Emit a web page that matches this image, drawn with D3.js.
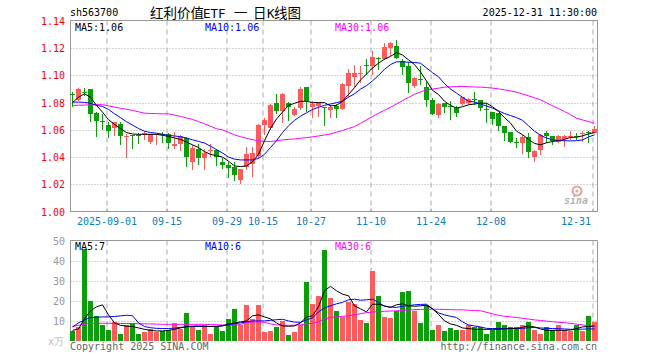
<!DOCTYPE html>
<html><head><meta charset="utf-8">
<script src="https://cdn.jsdelivr.net/npm/d3@7"></script>
<style>
html,body{margin:0;padding:0;background:#fff}
svg{display:block}
text{font-family:"DejaVu Sans Mono","Liberation Mono",monospace;font-size:10px}
</style></head><body>
<svg id="chart" width="660" height="360"></svg>
<script>
// sh563700 daily K line, 2025-08-22 .. 2025-12-31
const dates = ['08-22','08-25','08-26','08-27','08-28','08-29',
  '09-01','09-02','09-03','09-04','09-05','09-08','09-09','09-10','09-11','09-12',
  '09-15','09-16','09-17','09-18','09-19','09-22','09-23','09-24','09-25','09-26','09-29','09-30',
  '10-09','10-10','10-13','10-14','10-15','10-16','10-17','10-20','10-21','10-22','10-23','10-24',
  '10-27','10-28','10-29','10-30','10-31',
  '11-03','11-04','11-05','11-06','11-07','11-10','11-11','11-12','11-13','11-14',
  '11-17','11-18','11-19','11-20','11-21','11-24','11-25','11-26','11-27','11-28',
  '12-01','12-02','12-03','12-04','12-05','12-08','12-09','12-10','12-11','12-12',
  '12-15','12-16','12-17','12-18','12-19','12-22','12-23','12-24','12-25','12-26','12-29','12-30','12-31'];

const open  = [1.0860,1.0821,1.0880,1.0897,1.0723,1.0664,1.0633,1.0608,1.0640,1.0555,
  1.0559,1.0563,1.0557,1.0508,1.0565,1.0568,1.0567,1.0479,1.0493,1.0542,
  1.0363,1.0461,1.0395,1.0447,1.0449,1.0362,1.0342,1.0325,1.0227,1.0325,
  1.0350,1.0408,1.0636,1.0612,1.0800,1.0742,1.0796,1.0712,1.0756,1.0913,
  1.0771,1.0776,1.0766,1.0742,1.0776,1.0751,1.0918,1.0992,1.1014,1.1079,
  1.1070,1.1128,1.1119,1.1200,1.1217,1.1109,1.1070,1.0918,1.0977,1.0913,
  1.0820,1.0710,1.0801,1.0774,1.0764,1.0784,1.0796,1.0830,1.0821,1.0754,
  1.0728,1.0723,1.0632,1.0585,1.0511,1.0507,1.0546,1.0404,1.0453,1.0575,
  1.0556,1.0514,1.0531,1.0554,1.0558,1.0571,1.0581,1.0575];
const high  = [1.0880,1.0905,1.0910,1.0900,1.0730,1.0718,1.0655,1.0655,1.0655,1.0567,
  1.0560,1.0576,1.0591,1.0567,1.0570,1.0584,1.0580,1.0584,1.0559,1.0545,
  1.0486,1.0498,1.0461,1.0493,1.0461,1.0391,1.0367,1.0367,1.0315,1.0472,
  1.0472,1.0641,1.0685,1.0791,1.0864,1.0869,1.0808,1.0766,1.0913,1.0913,
  1.0813,1.0808,1.0771,1.0783,1.0791,1.0945,1.1046,1.1077,1.1070,1.1119,
  1.1176,1.1139,1.1237,1.1245,1.1261,1.1119,1.1102,1.0987,1.1070,1.0955,
  1.0832,1.0800,1.0801,1.0809,1.0772,1.0845,1.0833,1.0877,1.0821,1.0796,
  1.0728,1.0723,1.0632,1.0585,1.0539,1.0563,1.0580,1.0450,1.0571,1.0593,
  1.0556,1.0563,1.0563,1.0595,1.0575,1.0588,1.0588,1.0629];
const low   = [1.0765,1.0810,1.0846,1.0657,1.0547,1.0596,1.0542,1.0552,1.0486,1.0395,
  1.0459,1.0498,1.0523,1.0498,1.0486,1.0503,1.0461,1.0461,1.0444,1.0327,
  1.0307,1.0344,1.0302,1.0400,1.0337,1.0310,1.0244,1.0227,1.0202,1.0305,
  1.0251,1.0391,1.0563,1.0600,1.0717,1.0649,1.0668,1.0702,1.0747,1.0734,
  1.0685,1.0698,1.0631,1.0685,1.0685,1.0747,1.0845,1.0913,1.0943,1.1004,
  1.1004,1.1041,1.1114,1.1144,1.1119,1.1004,1.0874,1.0906,1.0930,1.0771,
  1.0710,1.0690,1.0723,1.0669,1.0693,1.0772,1.0784,1.0784,1.0735,1.0654,
  1.0637,1.0588,1.0521,1.0502,1.0465,1.0421,1.0396,1.0367,1.0416,1.0507,
  1.0490,1.0502,1.0477,1.0527,1.0527,1.0514,1.0502,1.0575];
const close = [1.0857,1.0902,1.0877,1.0711,1.0665,1.0661,1.0591,1.0655,1.0554,1.0558,
  1.0556,1.0560,1.0574,1.0567,1.0568,1.0565,1.0503,1.0493,1.0552,1.0400,
  1.0464,1.0393,1.0430,1.0450,1.0400,1.0342,1.0318,1.0264,1.0310,1.0423,
  1.0428,1.0636,1.0673,1.0783,1.0742,1.0864,1.0766,1.0754,1.0899,1.0808,
  1.0791,1.0803,1.0763,1.0766,1.0756,1.0938,1.1016,1.1021,1.1017,1.1076,
  1.1139,1.1125,1.1207,1.1237,1.1126,1.1065,1.0948,1.0979,1.0974,1.0820,
  1.0717,1.0790,1.0772,1.0771,1.0728,1.0838,1.0826,1.0827,1.0760,1.0751,
  1.0674,1.0629,1.0580,1.0514,1.0508,1.0551,1.0433,1.0448,1.0563,1.0556,
  1.0521,1.0556,1.0556,1.0557,1.0555,1.0580,1.0578,1.0607];

const ma5  = [1.0800,1.0840,1.0865,1.0840,1.0780,1.0730,1.0675,1.0640,1.0610,1.0580,
  1.0570,1.0567,1.0567,1.0567,1.0567,1.0560,1.0552,1.0540,1.0530,1.0510,
  1.0490,1.0470,1.0440,1.0420,1.0410,1.0400,1.0370,1.0335,1.0330,1.0335,
  1.0365,1.0420,1.0520,1.0610,1.0680,1.0730,1.0780,1.0795,1.0810,1.0810,
  1.0800,1.0800,1.0800,1.0776,1.0780,1.0810,1.0860,1.0910,1.0967,1.1010,
  1.1055,1.1090,1.1120,1.1140,1.1168,1.1150,1.1115,1.1080,1.1025,1.0960,
  1.0890,1.0860,1.0810,1.0780,1.0760,1.0770,1.0784,1.0790,1.0796,1.0796,
  1.0770,1.0735,1.0690,1.0650,1.0590,1.0565,1.0530,1.0500,1.0490,1.0505,
  1.0515,1.0520,1.0530,1.0545,1.0546,1.0556,1.0570,1.0580];
const ma10 = [1.0804,1.0804,1.0802,1.0795,1.0780,1.0772,1.0750,1.0718,1.0690,1.0660,
  1.0635,1.0610,1.0590,1.0580,1.0576,1.0568,1.0560,1.0555,1.0550,1.0540,
  1.0527,1.0515,1.0503,1.0480,1.0455,1.0430,1.0400,1.0385,1.0379,1.0379,
  1.0379,1.0390,1.0420,1.0470,1.0520,1.0580,1.0630,1.0670,1.0700,1.0725,
  1.0750,1.0766,1.0780,1.0790,1.0800,1.0810,1.0840,1.0865,1.0900,1.0925,
  1.0960,1.1000,1.1045,1.1080,1.1100,1.1100,1.1097,1.1095,1.1090,1.1055,
  1.1020,1.0990,1.0940,1.0900,1.0870,1.0840,1.0810,1.0805,1.0790,1.0775,
  1.0760,1.0740,1.0720,1.0705,1.0690,1.0670,1.0630,1.0590,1.0560,1.0540,
  1.0526,1.0522,1.0520,1.0519,1.0520,1.0526,1.0548,1.0563];
const ma30 = [1.0780,1.0781,1.0782,1.0784,1.0785,1.0785,1.0776,1.0767,1.0759,1.0751,
  1.0743,1.0733,1.0723,1.0720,1.0719,1.0718,1.0718,1.0708,1.0699,1.0688,
  1.0677,1.0661,1.0645,1.0627,1.0608,1.0600,1.0582,1.0563,1.0550,1.0538,
  1.0528,1.0519,1.0516,1.0514,1.0520,1.0526,1.0530,1.0533,1.0538,1.0543,
  1.0549,1.0555,1.0562,1.0570,1.0582,1.0595,1.0610,1.0624,1.0648,1.0673,
  1.0698,1.0722,1.0744,1.0766,1.0790,1.0815,1.0838,1.0862,1.0878,1.0894,
  1.0900,1.0906,1.0914,1.0916,1.0918,1.0919,1.0917,1.0915,1.0914,1.0911,
  1.0907,1.0901,1.0894,1.0886,1.0877,1.0864,1.0850,1.0836,1.0821,1.0799,
  1.0777,1.0756,1.0735,1.0711,1.0686,1.0673,1.0661,1.0649];

// volume, 万
const volume = [5.0,7.2,45.8,20.0,12.5,7.8,5.5,9.5,3.5,7.8,
  8.8,3.5,4.5,6.2,4.5,5.0,5.5,9.2,6.2,13.8,
  7.2,5.7,7.8,3.5,7.5,5.0,10.8,15.8,7.8,17.8,
  10.8,17.7,4.5,5.0,7.0,9.8,2.8,4.5,7.8,29.5,
  18.3,22.5,45.5,21.2,15.0,12.0,19.2,18.3,10.5,8.8,
  34.7,22.5,11.7,11.3,14.7,24.2,25.0,14.7,8.8,17.8,
  5.7,7.8,4.8,6.5,5.7,5.7,7.8,6.8,7.2,3.5,
  5.7,9.7,7.8,6.8,6.8,8.0,9.7,5.3,3.5,6.8,
  5.3,8.0,5.7,4.8,8.0,4.8,12.5,9.7];
const vma5 = [5.3,6.0,11.0,15.0,17.0,18.0,13.0,9.0,7.8,7.4,
  7.2,6.5,5.8,5.3,5.0,5.0,5.3,5.8,6.5,7.2,
  7.4,7.5,7.3,7.2,7.3,7.5,8.5,9.0,9.5,10.0,
  12.5,13.0,12.0,11.0,9.0,7.5,7.3,7.5,9.0,12.0,
  12.5,17.0,25.0,27.2,25.0,23.3,22.5,17.5,16.0,14.5,
  18.3,18.3,17.5,16.7,18.0,18.5,17.5,17.3,17.5,17.8,
  16.0,13.3,10.0,8.5,7.8,6.5,6.2,5.8,5.8,5.8,
  5.8,5.8,6.0,6.2,6.2,6.8,7.5,7.0,6.0,5.3,
  5.3,5.3,5.3,5.5,6.2,7.0,7.2,7.5];
const vma10 = [7.0,9.0,10.5,11.7,11.8,12.0,12.0,12.2,12.5,12.8,
  12.6,9.0,7.2,6.6,6.3,6.2,6.2,6.4,6.8,7.0,
  7.2,7.2,7.2,7.2,7.2,7.6,8.0,8.6,9.0,9.5,
  10.0,10.0,10.0,10.3,10.6,10.8,10.0,9.4,9.3,10.5,
  11.5,14.5,16.5,17.5,18.5,19.2,20.5,20.8,20.3,20.5,
  20.8,19.2,17.2,16.9,16.7,17.3,17.6,18.0,18.2,18.3,
  16.0,14.0,13.0,12.3,11.7,9.5,8.0,7.5,7.0,6.3,
  6.2,6.2,6.2,6.2,6.2,6.3,6.6,6.7,6.5,6.3,
  6.2,6.1,6.0,5.8,5.8,5.9,6.0,6.0];
const vma30 = [7.2,7.8,8.4,8.7,8.8,8.8,8.8,8.8,8.7,8.7,
  8.7,8.6,8.5,8.5,8.4,8.3,8.3,8.3,8.3,8.3,
  8.3,8.3,8.3,8.2,8.1,8.0,7.9,7.9,8.2,9.2,
  9.4,9.5,9.3,8.5,8.0,7.8,7.8,7.9,8.1,8.5,
  8.8,9.6,11.0,11.7,12.0,12.3,12.5,13.0,13.6,14.1,
  14.4,14.6,14.8,14.9,15.0,15.2,15.4,15.6,15.7,15.8,
  15.8,15.8,15.7,15.6,15.5,15.5,15.3,15.2,15.0,14.3,
  13.5,12.8,12.3,12.0,11.7,11.3,10.9,10.5,10.2,9.9,
  9.6,9.3,9.1,8.8,8.4,8.0,7.5,7.2];

const priceTicks = [1.00,1.02,1.04,1.06,1.08,1.10,1.12,1.14];
const volTicks = [10,20,30,40,50];
const tickDates = ['09-01','09-15','09-29','10-15','10-27','11-10','11-24','12-08','12-31'];
const tickText  = ['2025-09-01','09-15','09-29','10-15','10-27','11-10','11-24','12-08','12-31'];

const C = {up:'#ff5b5b', down:'#0a9e0a', grid:'#aaa', frame:'#999', ma5:'#000', ma10:'#0000ff',
  ma30:'#ff00ff', price:'#ff0000', date:'#0a7cc4', gray:'#999'};

const L = 70.5, R = 597.5, T = 20.5, B = 211.5, VT = 240.5, VB = 341;
const svg = d3.select('#chart');
const x = d3.scalePoint().domain(dates).range([72.5, 594.5]);
const y = d3.scaleLinear().domain([1.00, 1.14]).range([211.5, 21]);
const yv = d3.scaleLinear().domain([0, 50]).range([341, 240.5]);
const crisp = v => Math.round(v) + 0.5;
const gx = d => x(d) - 1.5;

// ---- price panel grid
const g = svg.append('g');
g.selectAll('.hg').data(priceTicks.slice(1, -1)).join('line')
  .attr('x1', L).attr('x2', R).attr('y1', d => crisp(y(d))).attr('y2', d => crisp(y(d)))
  .attr('stroke', C.grid).attr('stroke-dasharray', '1,2');
g.selectAll('.vg').data(tickDates).join('line')
  .attr('x1', d => gx(d)).attr('x2', d => gx(d)).attr('y1', T).attr('y2', B)
  .attr('stroke', C.grid).attr('stroke-dasharray', '5,4');
g.append('rect').attr('x', L).attr('y', T).attr('width', R - L).attr('height', B - T)
  .attr('fill', 'none').attr('stroke', C.frame);
g.selectAll('.tk').data(tickDates).join('line')
  .attr('x1', d => gx(d)).attr('x2', d => gx(d)).attr('y1', B).attr('y2', B - 3)
  .attr('stroke', C.frame);

// price axis labels
svg.append('g').selectAll('text').data(priceTicks).join('text')
  .attr('x', 65).attr('y', d => y(d) + 4).attr('text-anchor', 'end')
  .attr('fill', C.price).attr('font-size', 11).text(d => d.toFixed(2));

// date labels
svg.append('g').selectAll('text').data(tickDates).join('text')
  .attr('x', (d, i) => i === tickDates.length - 1 ? gx(d) - 2 : gx(d))
  .attr('y', 225).attr('text-anchor', (d, i) => i === tickDates.length - 1 ? 'end' : 'middle')
  .attr('fill', C.date).text((d, i) => tickText[i]);

// sina mark
const logo = svg.append('g');
logo.append('circle').attr('cx', 577).attr('cy', 191).attr('r', 4.5)
  .attr('fill', 'none').attr('stroke', '#f2a0a0').attr('stroke-width', 2.2);
logo.append('circle').attr('cx', 577).attr('cy', 191).attr('r', 1.6).attr('fill', '#bbb');
logo.append('text').attr('x', 564).attr('y', 204).attr('fill', '#b4b4b4')
  .attr('font-family', 'DejaVu Sans').attr('font-style', 'italic').attr('font-weight', 'bold')
  .attr('font-size', 17).text('sina');

// candles
const cg = svg.append('g').attr('shape-rendering', 'crispEdges');
const col = i => close[i] > open[i] ? C.up : C.down;
cg.selectAll('.wick').data(dates).join('line')
  .attr('x1', d => x(d)).attr('x2', d => x(d))
  .attr('y1', (d, i) => y(high[i])).attr('y2', (d, i) => y(low[i]))
  .attr('stroke', (d, i) => col(i));
cg.selectAll('.body').data(dates).join('rect')
  .attr('x', d => x(d) - 2.5).attr('width', 5)
  .attr('y', (d, i) => Math.round(y(Math.max(open[i], close[i]))))
  .attr('height', (d, i) => Math.max(1, Math.round(Math.abs(y(open[i]) - y(close[i])))))
  .attr('fill', (d, i) => col(i));

// MA lines
const line = sc => d3.line().x((d, i) => x(dates[i])).y(d => sc(d));
[[ma30, C.ma30], [ma10, C.ma10], [ma5, C.ma5]].forEach(([s, c]) => {
  svg.append('path').datum(s).attr('d', line(y)).attr('fill', 'none').attr('stroke', c).attr('stroke-width', 1);
});

// headers
svg.append('text').attr('x', 70).attr('y', 16).attr('fill', '#000').text('sh563700');
const title = svg.append('text').attr('y', 18).attr('fill', '#000').attr('font-size', 13.5);
[['红利价值', 150, 'cjk'], ['ETF', 203, 'mono'], ['一', 234, 'cjk'], ['日', 253, 'cjk'],
 ['K', 267, 'mono'], ['线图', 274, 'cjk']].forEach(([t, px, f]) => {
  title.append('tspan').attr('x', px)
    .attr('font-family', f === 'cjk' ? '"Noto Sans CJK SC"' : '"DejaVu Sans Mono"')
    .attr('font-size', f === 'cjk' ? 13.5 : 12.5).text(t);
});
svg.append('text').attr('x', 597).attr('y', 16).attr('text-anchor', 'end').attr('fill', '#000')
  .text('2025-12-31 11:30:00');
[['MA5:1.06', 75, C.ma5], ['MA10:1.06', 205, C.ma10], ['MA30:1.06', 335, C.ma30]].forEach(([t, px, c]) => {
  svg.append('text').attr('x', px).attr('y', 31).attr('fill', c).text(t);
});

// ---- volume panel
const v = svg.append('g');
v.selectAll('.hg').data(volTicks.slice(0, -1)).join('line')
  .attr('x1', L).attr('x2', R).attr('y1', d => crisp(yv(d))).attr('y2', d => crisp(yv(d)))
  .attr('stroke', C.grid).attr('stroke-dasharray', '1,2');
v.selectAll('.vg').data(tickDates).join('line')
  .attr('x1', d => gx(d)).attr('x2', d => gx(d)).attr('y1', VT).attr('y2', VB)
  .attr('stroke', C.grid).attr('stroke-dasharray', '5,4');
v.append('path').attr('d', `M${L},${VB}V${VT}H${R}V${VB}`).attr('fill', 'none').attr('stroke', C.frame);

svg.append('g').selectAll('text').data(volTicks).join('text')
  .attr('x', 65).attr('y', d => yv(d) + 4).attr('text-anchor', 'end')
  .attr('fill', C.gray).attr('font-size', 11).text(d => d);
svg.append('text').attr('x', 64).attr('y', 345).attr('text-anchor', 'end').attr('fill', '#bbb')
  .attr('font-family', '"Noto Sans CJK SC"').attr('font-size', 10).text('x万');

svg.append('g').attr('shape-rendering', 'crispEdges').selectAll('rect').data(dates).join('rect')
  .attr('x', d => x(d) - 2.5).attr('width', 5)
  .attr('y', (d, i) => yv(volume[i])).attr('height', (d, i) => yv(0) - yv(volume[i]))
  .attr('fill', (d, i) => col(i));

[[vma30, C.ma30], [vma10, C.ma10], [vma5, C.ma5]].forEach(([s, c]) => {
  svg.append('path').datum(s).attr('d', line(yv)).attr('fill', 'none').attr('stroke', c).attr('stroke-width', 1);
});
[['MA5:7', 75, C.ma5], ['MA10:6', 205, C.ma10], ['MA30:6', 335, C.ma30]].forEach(([t, px, c]) => {
  svg.append('text').attr('x', px).attr('y', 250).attr('fill', c).text(t);
});

svg.append('text').attr('x', 70).attr('y', 350).attr('fill', '#666').text('Copyright 2025 SINA.COM');
svg.append('text').attr('x', 597).attr('y', 350).attr('text-anchor', 'end').attr('fill', '#666')
  .text('http://finance.sina.com.cn');
</script>
</body></html>
